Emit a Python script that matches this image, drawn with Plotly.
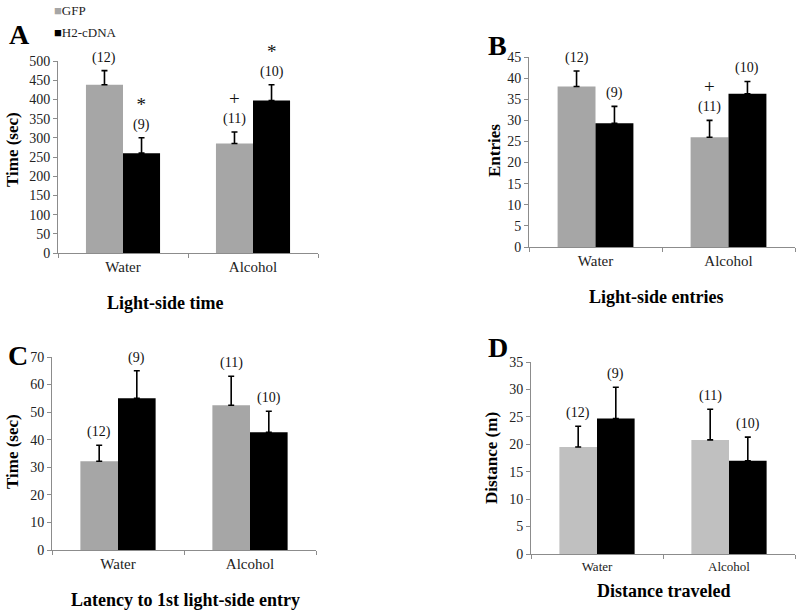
import plotly.graph_objects as go

W, H = 800, 614

# ---------------- data ----------------
groups = ["Water", "Alcohol"]
series_names = ["GFP", "H2-cDNA"]

# Panel A: Light-side time (sec)
a_gfp = [438, 285]
a_gfp_err = [37, 30]
a_h2 = [260, 397]
a_h2_err = [40, 41]

# Panel B: Light-side entries
b_gfp = [38.0, 26.0]
b_gfp_err = [3.7, 4.0]
b_h2 = [29.3, 36.3]
b_h2_err = [4.0, 2.9]

# Panel C: Latency to 1st light-side entry (sec)
c_gfp = [32.2, 52.5]
c_gfp_err = [5.8, 10.5]
c_h2 = [55.0, 42.7]
c_h2_err = [10.0, 7.6]

# Panel D: Distance traveled (m)
d_gfp = [19.5, 20.8]
d_gfp_err = [3.8, 5.6]
d_h2 = [24.7, 17.0]
d_h2_err = [5.7, 4.3]

# sample sizes and significance marks (GFP, H2) per group
n_gfp = ["(12)", "(11)"]
n_h2 = ["(9)", "(10)"]
a_mark_gfp = ["", "+"]
a_mark_h2 = ["*", "*"]
b_mark_gfp = ["", "+"]
b_mark_h2 = ["", ""]

# ---------------- layout helpers ----------------
SERIF = "Liberation Serif"
GFP_COLOR = "#a6a6a6"
GFP_COLOR_D = "#c0c0c0"
H2_COLOR = "#000000"
BARGAP = 0.43

def px_x(px):
    return px / W

def px_y(py):
    return 1 - py / H

panels = [
    dict(key="", x0=58, x1=318, y0=61, y1=253, ymax=500, dtick=50,
         gfp=a_gfp, gfp_err=a_gfp_err, h2=a_h2, h2_err=a_h2_err,
         mg=a_mark_gfp, mh=a_mark_h2, gcol=GFP_COLOR, tickfs=15,
         ytitle="Time (sec)", ytx=12, yty=150,
         xtitle="Light-side time", xtx=165, xty=303,
         letter="A", lx=19, ly=34),
    dict(key="2", x0=529, x1=795, y0=57, y1=247, ymax=45, dtick=5,
         gfp=b_gfp, gfp_err=b_gfp_err, h2=b_h2, h2_err=b_h2_err,
         mg=b_mark_gfp, mh=b_mark_h2, gcol=GFP_COLOR, tickfs=15,
         ytitle="Entries", ytx=494, yty=151,
         xtitle="Light-side entries", xtx=656, xty=297,
         letter="B", lx=497, ly=45),
    dict(key="3", x0=52, x1=316, y0=357, y1=550, ymax=70, dtick=10,
         gfp=c_gfp, gfp_err=c_gfp_err, h2=c_h2, h2_err=c_h2_err,
         mg=["", ""], mh=["", ""], gcol=GFP_COLOR, tickfs=15,
         ytitle="Time (sec)", ytx=12, yty=452,
         xtitle="Latency to 1st light-side entry", xtx=185, xty=600,
         letter="C", lx=18, ly=355),
    dict(key="4", x0=531, x1=795, y0=362, y1=554, ymax=35, dtick=5,
         gfp=d_gfp, gfp_err=d_gfp_err, h2=d_h2, h2_err=d_h2_err,
         mg=["", ""], mh=["", ""], gcol=GFP_COLOR_D, tickfs=13,
         ytitle="Distance (m)", ytx=491, yty=458,
         xtitle="Distance traveled", xtx=663, xty=591,
         letter="D", lx=498, ly=347),
]

fig = go.Figure()
annotations = []
layout_axes = {}

for p in panels:
    k = p["key"]
    xa, ya = "x" + k, "y" + k
    for name, vals, errs, col in [
        ("GFP", p["gfp"], p["gfp_err"], p["gcol"]),
        ("H2-cDNA", p["h2"], p["h2_err"], H2_COLOR),
    ]:
        fig.add_trace(go.Bar(
            x=groups, y=vals, name=name, marker=dict(color=col, line=dict(width=0)),
            error_y=dict(type="data", symmetric=False, array=errs,
                         arrayminus=[0] * len(errs), color="#000000",
                         thickness=1.6, width=3),
            xaxis=xa, yaxis=ya, showlegend=False, offsetgroup=name,
        ))

    layout_axes["xaxis" + k] = dict(
        domain=[px_x(p["x0"]), px_x(p["x1"])], anchor=ya,
        type="category", range=[-0.5, 1.5], automargin=False,
        showline=True, linecolor="#8c8c8c", linewidth=1,
        ticks="outside", tickson="boundaries", ticklen=4, tickcolor="#8c8c8c",
        showgrid=False, zeroline=False,
        tickfont=dict(family=SERIF, size=p["tickfs"], color="#222"),
        fixedrange=True,
    )
    layout_axes["yaxis" + k] = dict(
        domain=[px_y(p["y1"]), px_y(p["y0"])], anchor=xa,
        range=[0, p["ymax"]], dtick=p["dtick"], tick0=0, automargin=False,
        showline=True, linecolor="#8c8c8c", linewidth=1,
        ticks="outside", ticklen=4, tickcolor="#8c8c8c",
        showgrid=False, zeroline=False,
        tickfont=dict(family=SERIF, size=14, color="#222"),
        fixedrange=True,
    )

    # bar half-offset in px for label positioning
    half_px = (p["x1"] - p["x0"]) / 2
    bar_w = half_px * (1 - BARGAP) / 2
    for i, g in enumerate(groups):
        for vals, errs, lab, mark, sgn in [
            (p["gfp"], p["gfp_err"], n_gfp[i], p["mg"][i], -1),
            (p["h2"], p["h2_err"], n_h2[i], p["mh"][i], 1),
        ]:
            if mark:
                txt = "<span style='font-size:19px'>" + mark + "</span><br>" + lab
            else:
                txt = lab
            annotations.append(dict(
                x=g, y=vals[i] + errs[i], xref=xa, yref=ya,
                xshift=sgn * bar_w / 2, yshift=3,
                text=txt, showarrow=False, xanchor="center", yanchor="bottom",
                font=dict(family=SERIF, size=14, color="#111"),
            ))

    annotations.append(dict(
        x=px_x(p["ytx"]), y=px_y(p["yty"]), xref="paper", yref="paper",
        xanchor="center", yanchor="middle",
        text="<b>" + p["ytitle"] + "</b>", textangle=-90, showarrow=False,
        font=dict(family=SERIF, size=17, color="#000"),
    ))
    annotations.append(dict(
        x=px_x(p["xtx"]), y=px_y(p["xty"]), xref="paper", yref="paper",
        xanchor="center", yanchor="middle",
        text="<b>" + p["xtitle"] + "</b>", showarrow=False,
        font=dict(family=SERIF, size=18, color="#000"),
    ))
    annotations.append(dict(
        x=px_x(p["lx"]), y=px_y(p["ly"]), xref="paper", yref="paper",
        xanchor="center", yanchor="middle",
        text="<b>" + p["letter"] + "</b>", showarrow=False,
        font=dict(family=SERIF, size=28, color="#000"),
    ))

# legend (drawn as text, top-left)
annotations.append(dict(
    x=px_x(52), y=px_y(10), xref="paper", yref="paper",
    xanchor="left", yanchor="middle",
    text="<span style='color:%s'>■</span>%s" % (GFP_COLOR, series_names[0]),
    showarrow=False, font=dict(family=SERIF, size=13, color="#222"),
))
annotations.append(dict(
    x=px_x(52), y=px_y(32), xref="paper", yref="paper",
    xanchor="left", yanchor="middle",
    text="<span style='color:#000'>■</span>%s" % series_names[1],
    showarrow=False, font=dict(family=SERIF, size=13, color="#222"),
))

fig.update_layout(
    width=W, height=H,
    margin=dict(l=0, r=0, t=0, b=0, pad=0, autoexpand=False),
    paper_bgcolor="white", plot_bgcolor="white",
    font=dict(family=SERIF),
    barmode="group", bargap=BARGAP, bargroupgap=0,
    showlegend=False,
    annotations=annotations,
    **layout_axes,
)

fig.write_html("out.html", config={"displayModeBar": False},
               post_script="document.body.style.margin='0px';")
